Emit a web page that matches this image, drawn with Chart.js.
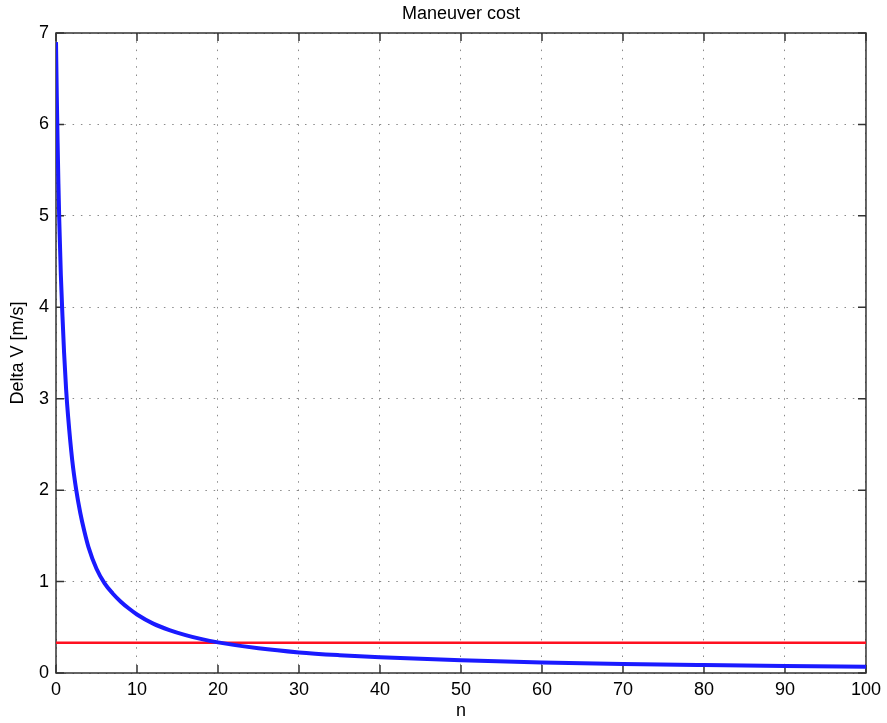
<!DOCTYPE html>
<html>
<head>
<meta charset="utf-8">
<title>Maneuver cost</title>
<script src="https://cdn.jsdelivr.net/npm/chart.js@4.4.1/dist/chart.umd.min.js"></script>
<style>
  html, body { margin: 0; padding: 0; background: #fff; }
  #wrap { width: 887px; height: 723px; position: relative; }
</style>
</head>
<body>
<div id="wrap"><canvas id="myChart"></canvas></div>
<script>
"use strict";
// number of burns vs. total delta-v
var nValues = [0, 0.1, 0.2, 0.3, 0.4, 0.6, 0.8, 1, 1.25, 1.5, 2, 2.5, 3, 3.5, 4, 5, 6, 7, 8, 9, 10,
  12, 14, 16, 18, 20, 25, 30, 35, 40, 50, 60, 70, 80, 90, 100];
var deltaV = [6.9, 6.3, 5.8, 5.35, 4.96, 4.35, 3.9, 3.5, 3.1, 2.8, 2.33, 2.0, 1.75, 1.55, 1.38, 1.14, 0.98, 0.87, 0.78, 0.705, 0.64,
  0.54, 0.47, 0.415, 0.37, 0.335, 0.27, 0.225, 0.195, 0.172, 0.14, 0.116, 0.099, 0.087, 0.077, 0.069];
// budget line
var budget = 0.33;
var xRange = [0, 100];
var yRange = [0, 7];

var curve = nValues.map(function(n, i) {
  return { x: n, y: deltaV[i] };
});
var budgetLine = xRange.map(function(n) {
  return { x: n, y: budget };
});

Chart.defaults.font.family = "'Liberation Sans', Arial, Helvetica, sans-serif";
Chart.defaults.font.size = 18;
Chart.defaults.color = "#000";

/* box around the plot plus inward tick marks */
var frame = {
  id: "frame",
  beforeDatasetsDraw: function(chart) {
    var ctx = chart.ctx;
    var a = chart.chartArea;
    var xs = chart.scales.x, ys = chart.scales.y;
    var len = 8;
    ctx.save();
    ctx.strokeStyle = "#333";
    ctx.lineWidth = 1.5;
    ctx.beginPath();
    xs.ticks.forEach(function(t) {
      var px = xs.getPixelForValue(t.value);
      ctx.moveTo(px, a.bottom); ctx.lineTo(px, a.bottom - len);
      ctx.moveTo(px, a.top); ctx.lineTo(px, a.top + len);
    });
    ys.ticks.forEach(function(t) {
      var py = ys.getPixelForValue(t.value);
      ctx.moveTo(a.left, py); ctx.lineTo(a.left + len, py);
      ctx.moveTo(a.right, py); ctx.lineTo(a.right - len, py);
    });
    ctx.stroke();
    ctx.strokeRect(a.left, a.top, a.right - a.left, a.bottom - a.top);
    ctx.restore();
  }
};

var ctx = document.getElementById("myChart").getContext("2d");
var chart = new Chart(ctx, {
  type: "line",
  data: {
    datasets: [{
      label: "Delta V",
      data: curve,
      borderColor: "#1a1aff",
      borderWidth: 4,
      pointRadius: 0,
      cubicInterpolationMode: "monotone",
      fill: false
    },
    {
      label: "Budget",
      data: budgetLine,
      borderColor: "#ff1020",
      borderWidth: 2.5,
      pointRadius: 0,
      fill: false
    }]
  },
  options: {
    responsive: true,
    maintainAspectRatio: false,
    animation: false,
    layout: { padding: { left: 0, right: 19, top: 0, bottom: 0 } },
    plugins: {
      legend: { display: false },
      tooltip: { enabled: false }
    },
    scales: {
      x: {
        type: "linear",
        min: xRange[0],
        max: xRange[1],
        ticks: { stepSize: 10, padding: 6, maxRotation: 0 },
        grid: { color: "#8a8a8a", lineWidth: 1, drawTicks: false },
        border: { display: false, dash: [1.5, 6.8] },
        title: { display: true, text: "n", padding: { top: 0, bottom: 1 } },
        afterFit: function(scale) { scale.height = 50; }
      },
      // top axis only carries the plot title, centred over the plot area
      top: {
        type: "linear",
        position: "top",
        min: xRange[0],
        max: xRange[1],
        ticks: { display: false },
        grid: { display: false, drawTicks: false },
        border: { display: false },
        title: { display: true, text: "Maneuver cost", padding: { top: 3, bottom: 0 } },
        afterFit: function(scale) { scale.height = 33; }
      },
      y: {
        min: yRange[0],
        max: yRange[1],
        ticks: { stepSize: 1, padding: 7 },
        grid: { color: "#8a8a8a", lineWidth: 1, drawTicks: false },
        border: { display: false, dash: [1.5, 6.8] },
        title: { display: true, text: "Delta V [m/s]", padding: { top: 7, bottom: 0 } },
        afterFit: function(scale) { scale.width = 56; }
      }
    }
  },
  plugins: [frame]
});
</script>
</body>
</html>
